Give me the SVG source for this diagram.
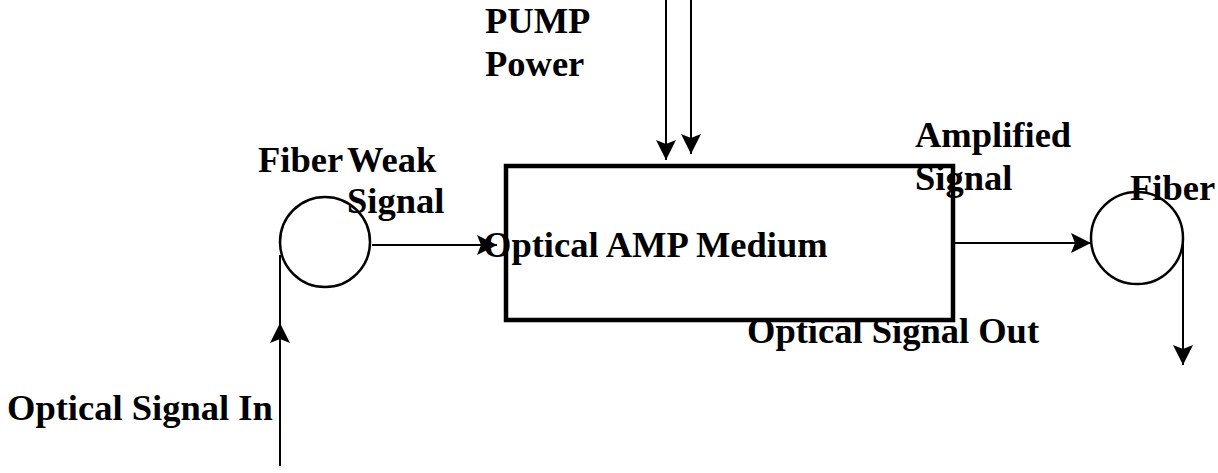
<svg xmlns="http://www.w3.org/2000/svg" width="1218" height="473" viewBox="0 0 1218 473">
<style>
.t{font-family:"Liberation Serif","Times New Roman",serif;font-weight:bold;font-size:36.5px;fill:#000}
.c{fill:none;stroke:#000;stroke-width:2.5}
.ln{fill:none;stroke:#000;stroke-width:2}
</style>
<defs>
<marker id="ah" viewBox="-21 -11 22 22" refX="0" refY="0" markerWidth="22" markerHeight="22" markerUnits="userSpaceOnUse" orient="auto">
<path d="M0,0 L-20,-10 L-16,0 L-20,10 Z" fill="#000"/>
</marker>
</defs>
<rect width="1218" height="473" fill="#fff"/>
<g id="amp">
<rect x="506" y="166" width="447" height="154" fill="none" stroke="#000" stroke-width="4.5"/>
</g>
<g id="fiber-in">
<circle class="c" cx="325" cy="242" r="45"/>
</g>
<g id="fiber-out">
<circle class="c" cx="1137" cy="238" r="46"/>
</g>
<g id="connectors">
<line class="ln" x1="666" y1="0" x2="666" y2="160" marker-end="url(#ah)"/>
<line class="ln" x1="691" y1="0" x2="691" y2="154" marker-end="url(#ah)"/>
<line class="ln" x1="280" y1="466" x2="280" y2="323" marker-end="url(#ah)"/>
<line class="ln" x1="280" y1="255" x2="280" y2="330"/>
<line class="ln" x1="372" y1="245" x2="497" y2="245" marker-end="url(#ah)"/>
<line class="ln" x1="955" y1="243" x2="1091" y2="243" marker-end="url(#ah)"/>
<line class="ln" x1="1183" y1="240" x2="1183" y2="365" marker-end="url(#ah)"/>
</g>
<g id="labels">
<text class="t" x="485" y="33">PUMP</text>
<text class="t" x="485" y="76">Power</text>
<text class="t" x="258" y="172">Fiber</text>
<text class="t" x="347" y="172">Weak</text>
<text class="t" x="347" y="213">Signal</text>
<text class="t" x="483" y="257">Optical AMP Medium</text>
<text class="t" x="747" y="343">Optical Signal Out</text>
<text class="t" x="915" y="147">Amplified</text>
<text class="t" x="915" y="190">Signal</text>
<text class="t" x="1130" y="200">Fiber</text>
<text class="t" x="7" y="420">Optical Signal In</text>
</g>
</svg>
